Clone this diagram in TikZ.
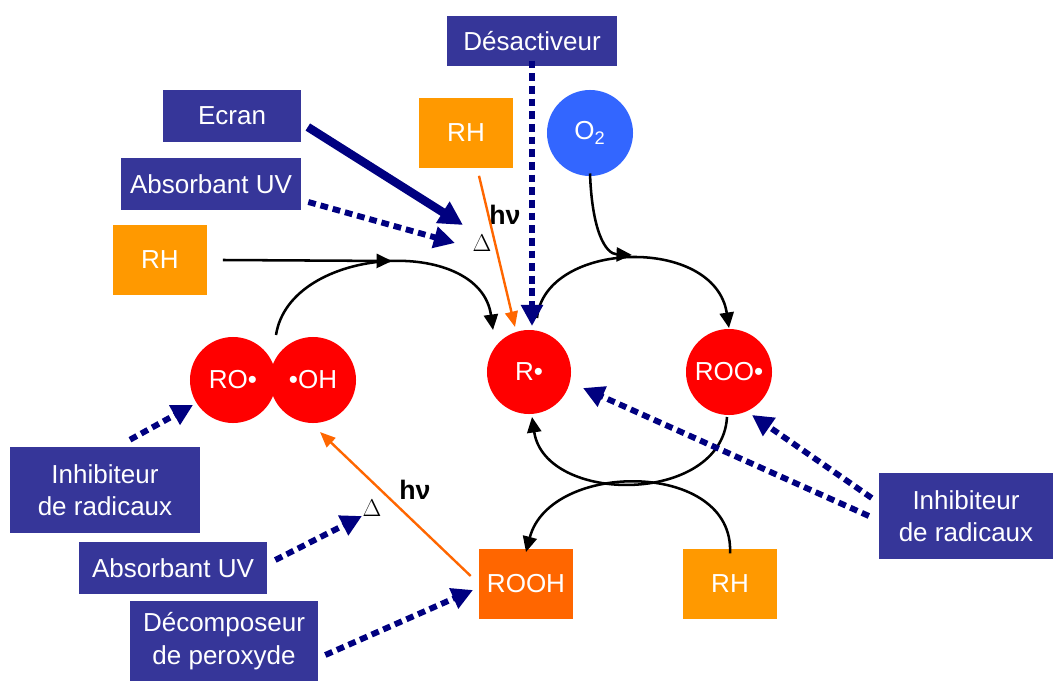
\documentclass[tikz,border=0pt]{standalone}
\usepackage{fontspec}
\setmainfont{Liberation Sans}
\usetikzlibrary{arrows.meta}

\definecolor{boxblue}{HTML}{363699}
\definecolor{arrnavy}{HTML}{000080}
\definecolor{rhorange}{HTML}{FF9900}
\definecolor{roohorange}{HTML}{FF6600}
\definecolor{radred}{HTML}{FF0000}
\definecolor{oxblue}{HTML}{3366FF}

\tikzset{
  lbl/.style={font=\fontsize{18.5}{23}\selectfont},
  navybox/.style={lbl, fill=boxblue, text=white, minimum height=1.3cm, align=center, inner sep=0pt},
  rhbox/.style={lbl, fill=rhorange, text=white, minimum width=2.35cm, minimum height=1.725cm, inner sep=0pt},
  radical/.style={lbl, circle, fill=radred, text=white, minimum size=2.15cm, inner sep=0pt},
  inhib/.style={draw=arrnavy, line width=4.2pt, dash pattern=on 5.5pt off 3.5pt, -{Triangle[length=15pt,width=15pt]}},
  react/.style={draw=black, line width=1.8pt, -{Triangle[length=11pt,width=10pt]}},
  photo/.style={draw=roohorange, line width=1.7pt, -{Triangle[length=11pt,width=9pt]}},
  energy/.style={font=\fontsize{19}{22}\selectfont}
}

\begin{document}
\begin{tikzpicture}[x=0.025cm, y=-0.025cm]
  \useasboundingbox (0,0) rectangle (1056,682);

  % species
  \node (rhL) [rhbox] at (160,260) {RH};
  \node (rhT) [rhbox] at (466,133) {RH};
  \node (rhB) [rhbox] at (730,584) {RH};
  \node (rooh) [rhbox, fill=roohorange] at (526,584) {ROOH};
  \node (o2) [radical, fill=oxblue, minimum size=2.15cm] at (590,133) {O\textsubscript{2}};
  \node (r) [radical, minimum size=2.1cm] at (529,372) {R•};
  \node (roo) [radical] at (729,372) {ROO•};
  \node (ro) [radical] at (233,380) {RO•};
  \node (oh) [radical] at (313,380) {•OH};

  % additives
  \node (desact) [navybox, minimum width=4.25cm, minimum height=1.25cm] at (532,41) {Désactiveur};
  \node (ecran) [navybox, minimum width=3.425cm] at (232,116) {Ecran};
  \node (absT) [navybox, minimum width=4.5cm] at (211,184) {Absorbant UV};
  \node (inhibL) [navybox, minimum width=4.725cm, minimum height=2.15cm] at (105,490) {Inhibiteur\\de radicaux};
  \node (absB) [navybox, minimum width=4.7cm, minimum height=1.275cm] at (173,568) {Absorbant UV};
  \node (decomp) [navybox, minimum width=4.7cm, minimum height=2cm] at (224,641) {Décomposeur\\de peroxyde};
  \node (inhibR) [navybox, minimum width=4.35cm, minimum height=2.15cm] at (966,516) {Inhibiteur\\de radicaux};

  % energy labels
  \node (hvT) [energy] at (505,215) {\bfseries hν};
  \node (dT) [energy] at (482,243) {$\Delta$};
  \node (hvB) [energy] at (415,490) {\bfseries hν};
  \node (dB) [energy] at (372,508) {$\Delta$};

  % cycle points
  \coordinate (topL) at (392,261);
  \coordinate (topR) at (632,255);
  \coordinate (roStart) at (276,335);

  \draw [react] ([xshift=11]rhL.east) -- (topL);
  \draw [react] (roStart) .. controls (290,245) and (480,235) .. (493,330);
  \draw [react] (537,318) .. controls (545,240) and (715,235) .. (729,328);
  \draw [react] ([yshift=2]o2.south) .. controls (592,230) and (605,254) .. (topR);
  \draw [react] (727,417) .. controls (722,505) and (545,505) .. (532,417);
  \draw [react] ([yshift=-3]rhB.north) .. controls (735,460) and (550,460) .. ([yshift=-2]rooh.north);

  % light and heat
  \coordinate (photoR) at (515,327);
  \coordinate (photoOH) at (320,432);
  \draw [photo] ([shift={(13,8)}]rhT.south) -- (photoR);
  \draw [photo] ([shift={(-8,-8)}]rooh.west) -- (photoOH);

  % stabilisers
  \coordinate (ecranTip) at (463,225);
  \coordinate (absTTip) at (455,243);
  \coordinate (desTip) at (532,326);
  \coordinate (inhibLTip) at (193,405);
  \coordinate (absBTip) at (362,516);
  \coordinate (decompTip) at (473,590);
  \coordinate (rTip) at (583,388);
  \coordinate (rooTip) at (752,415);

  \draw [draw=arrnavy, line width=6pt, -{Triangle[length=17pt,width=17pt]}] ([shift={(7,11)}]ecran.east) -- (ecranTip);
  \path
    ([shift={(7,18)}]absT.east) edge [inhib] (absTTip)
    ([yshift=4]desact.south) edge [inhib] (desTip)
    ([shift={(25,-7)}]inhibL.north) edge [inhib] (inhibLTip)
    ([shift={(8,-8)}]absB.east) edge [inhib] (absBTip)
    ([shift={(7,14)}]decomp.east) edge [inhib] (decompTip)
    ([xshift=-7]inhibR.west) edge [inhib] (rTip)
    ([shift={(-7,-18)}]inhibR.west) edge [inhib] (rooTip);
\end{tikzpicture}
\end{document}
